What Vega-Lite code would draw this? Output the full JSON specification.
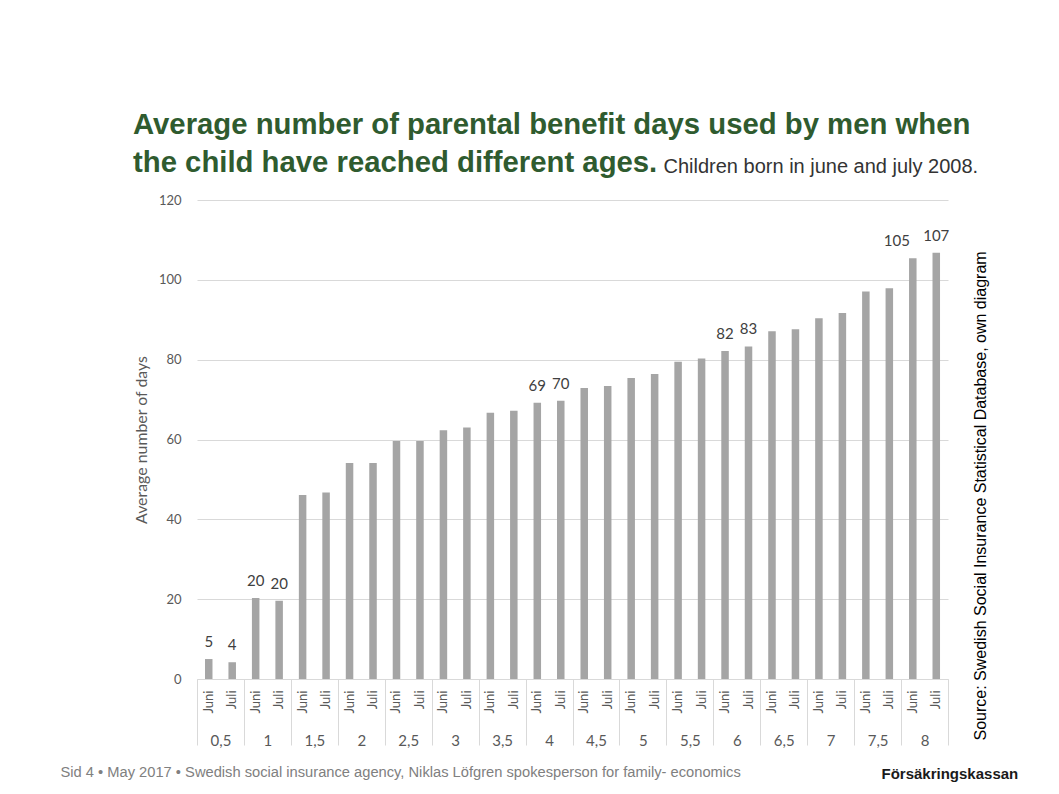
{
  "$schema": "https://vega.github.io/schema/vega-lite/v6.json",
  "autosize": {"type": "none"},
  "width": 751,
  "height": 479,
  "padding": {"left": 197, "top": 200, "right": 111, "bottom": 115},
  "background": "white",
  "title": {
    "text": ["Average number of parental benefit days used by men when", "the child have reached different ages."],
    "anchor": "start",
    "frame": "group",
    "dx": -64,
    "font": "Liberation Sans",
    "fontSize": 29.3,
    "fontWeight": "bold",
    "color": "#2f5b2f",
    "lineHeight": 38,
    "offset": -22
  },
  "data": {
    "values": [
      {"age": "0,5", "month": "Juni", "key": "0,5 Juni", "value": 5.0, "label": "5"},
      {"age": "0,5", "month": "Juli", "key": "0,5 Juli", "value": 4.2, "label": "4"},
      {"age": "1", "month": "Juni", "key": "1 Juni", "value": 20.3, "label": "20"},
      {"age": "1", "month": "Juli", "key": "1 Juli", "value": 19.6, "label": "20"},
      {"age": "1,5", "month": "Juni", "key": "1,5 Juni", "value": 46.1, "label": null},
      {"age": "1,5", "month": "Juli", "key": "1,5 Juli", "value": 46.7, "label": null},
      {"age": "2", "month": "Juni", "key": "2 Juni", "value": 54.1, "label": null},
      {"age": "2", "month": "Juli", "key": "2 Juli", "value": 54.1, "label": null},
      {"age": "2,5", "month": "Juni", "key": "2,5 Juni", "value": 59.6, "label": null},
      {"age": "2,5", "month": "Juli", "key": "2,5 Juli", "value": 59.6, "label": null},
      {"age": "3", "month": "Juni", "key": "3 Juni", "value": 62.3, "label": null},
      {"age": "3", "month": "Juli", "key": "3 Juli", "value": 63.0, "label": null},
      {"age": "3,5", "month": "Juni", "key": "3,5 Juni", "value": 66.7, "label": null},
      {"age": "3,5", "month": "Juli", "key": "3,5 Juli", "value": 67.2, "label": null},
      {"age": "4", "month": "Juni", "key": "4 Juni", "value": 69.2, "label": "69"},
      {"age": "4", "month": "Juli", "key": "4 Juli", "value": 69.7, "label": "70"},
      {"age": "4,5", "month": "Juni", "key": "4,5 Juni", "value": 72.9, "label": null},
      {"age": "4,5", "month": "Juli", "key": "4,5 Juli", "value": 73.4, "label": null},
      {"age": "5", "month": "Juni", "key": "5 Juni", "value": 75.4, "label": null},
      {"age": "5", "month": "Juli", "key": "5 Juli", "value": 76.4, "label": null},
      {"age": "5,5", "month": "Juni", "key": "5,5 Juni", "value": 79.5, "label": null},
      {"age": "5,5", "month": "Juli", "key": "5,5 Juli", "value": 80.3, "label": null},
      {"age": "6", "month": "Juni", "key": "6 Juni", "value": 82.2, "label": "82"},
      {"age": "6", "month": "Juli", "key": "6 Juli", "value": 83.3, "label": "83"},
      {"age": "6,5", "month": "Juni", "key": "6,5 Juni", "value": 87.1, "label": null},
      {"age": "6,5", "month": "Juli", "key": "6,5 Juli", "value": 87.6, "label": null},
      {"age": "7", "month": "Juni", "key": "7 Juni", "value": 90.4, "label": null},
      {"age": "7", "month": "Juli", "key": "7 Juli", "value": 91.7, "label": null},
      {"age": "7,5", "month": "Juni", "key": "7,5 Juni", "value": 97.1, "label": null},
      {"age": "7,5", "month": "Juli", "key": "7,5 Juli", "value": 97.9, "label": null},
      {"age": "8", "month": "Juni", "key": "8 Juni", "value": 105.4, "label": "105"},
      {"age": "8", "month": "Juli", "key": "8 Juli", "value": 106.8, "label": "107"}
    ]
  },
  "layer": [
    {
      "encoding": {
        "x": {
          "field": "key",
          "type": "nominal",
          "sort": null,
          "scale": {"paddingInner": 0, "paddingOuter": 0},
          "axis": {
            "orient": "bottom",
            "labelExpr": "split(datum.label, ' ')[1]",
            "labelAngle": 270,
            "labelFont": "Lato",
            "labelFontSize": 13,
            "labelColor": "#595959",
            "labelPadding": 11,
            "labelOverlap": false,
            "ticks": false,
            "domain": true,
            "domainColor": "#d9d9d9",
            "grid": false,
            "title": "Försäkringskassan",
            "titleFont": "Liberation Sans",
            "titleFontSize": 15,
            "titleFontWeight": "bold",
            "titleColor": "#1a1a1a",
            "titleX": 684,
            "titleY": 94,
            "titleAlign": "left",
            "titleBaseline": "middle",
            "titleAngle": 0
          }
        },
        "y": {
          "field": "value",
          "type": "quantitative",
          "scale": {"domain": [0, 120], "nice": false},
          "axis": {
            "values": [0, 20, 40, 60, 80, 100, 120],
            "labelFont": "Lato",
            "labelFontSize": 13,
            "labelColor": "#595959",
            "labelPadding": 16,
            "ticks": false,
            "domain": false,
            "grid": true,
            "gridColor": "#d9d9d9",
            "gridWidth": 1,
            "title": "Average number of days",
            "titleFont": "Lato",
            "titleFontSize": 15.9,
            "titleFontWeight": "normal",
            "titleColor": "#595959",
            "titlePadding": 9
          }
        }
      },
      "layer": [
        {
          "mark": {"type": "bar", "color": "#a5a5a5", "width": {"band": 0.32}}
        },
        {
          "transform": [{"filter": "datum.label != null && datum.label != '105'"}],
          "mark": {"type": "text", "font": "Lato", "fontSize": 15, "color": "#404040", "baseline": "bottom", "dy": -9},
          "encoding": {"text": {"field": "label"}}
        },
        {
          "transform": [{"filter": "datum.label == '105'"}],
          "mark": {"type": "text", "font": "Lato", "fontSize": 15, "color": "#404040", "baseline": "bottom", "dy": -9, "dx": -16},
          "encoding": {"text": {"field": "label"}}
        }
      ]
    },
    {
      "mark": {"type": "point", "opacity": 0},
      "encoding": {
        "x": {
          "field": "age",
          "type": "nominal",
          "sort": null,
          "scale": {"paddingInner": 0, "paddingOuter": 0},
          "axis": {
            "orient": "bottom",
            "labelAngle": 0,
            "labelFont": "Lato",
            "labelFontSize": 15,
            "labelColor": "#595959",
            "labelBaseline": "middle",
            "labelPadding": -5,
            "tickBand": "extent",
            "ticks": true,
            "tickSize": 66,
            "tickColor": "#d9d9d9",
            "domain": false,
            "grid": false,
            "title": "Sid 4 • May 2017 • Swedish social insurance agency, Niklas Löfgren spokesperson for family- economics",
            "titleFont": "Liberation Sans",
            "titleFontSize": 14.7,
            "titleFontWeight": "normal",
            "titleColor": "#808080",
            "titleX": -137,
            "titleY": 93,
            "titleAlign": "left",
            "titleBaseline": "middle",
            "titleAngle": 0
          }
        },
        "y": {
          "field": "value",
          "type": "quantitative",
          "scale": {"domain": [0, 120], "nice": false},
          "axis": {
            "orient": "right",
            "labels": false,
            "ticks": false,
            "domain": false,
            "grid": false,
            "title": "Source: Swedish Social Insurance Statistical Database, own diagram",
            "titleFont": "Liberation Sans",
            "titleFontSize": 16,
            "titleFontWeight": "normal",
            "titleColor": "#000000",
            "titleAngle": 270,
            "titleAlign": "left",
            "titleBaseline": "middle",
            "titleX": 32,
            "titleY": 540
          }
        }
      }
    },
    {
      "mark": {"type": "point", "opacity": 0},
      "encoding": {
        "x": {
          "field": "month",
          "type": "nominal",
          "axis": {
            "orient": "top",
            "labels": false,
            "ticks": false,
            "domain": false,
            "grid": false,
            "title": "Children born in june and july 2008.",
            "titleFont": "Liberation Sans",
            "titleFontSize": 20,
            "titleFontWeight": "normal",
            "titleColor": "#333333",
            "titleX": 466,
            "titleY": -28,
            "titleAlign": "left",
            "titleBaseline": "alphabetic",
            "titleAngle": 0
          }
        }
      }
    }
  ],
  "resolve": {"scale": {"x": "independent"}, "axis": {"x": "independent", "y": "independent"}},
  "config": {"view": {"stroke": null}}
}
